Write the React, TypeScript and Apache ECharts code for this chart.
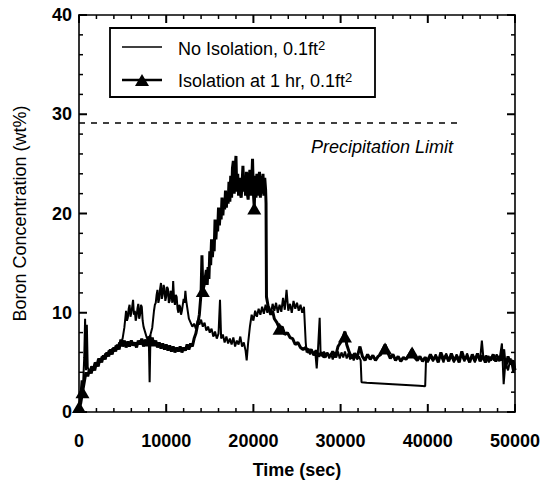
import React, { useEffect, useRef } from "react";
import * as echarts from "echarts";

// Time (sec), boron concentration (wt%)
const noIsolation: [number, number][] = [
  [0, 0.4], [150, 1.5], [300, 3.2], [450, 2.4], [600, 5.5], [700, 9.4], [800, 4.2], [900, 8.8], [1000, 4.5],
  [1200, 4.0], [1400, 4.6], [1600, 4.3], [1800, 5.0], [2000, 4.7], [2200, 5.4], [2400, 5.0], [2600, 5.6],
  [2800, 5.3], [3000, 5.9], [3200, 5.6], [3400, 6.2], [3600, 5.8], [3800, 6.4], [4000, 6.1], [4200, 6.7],
  [4400, 6.3], [4600, 7.0], [4800, 6.8], [5000, 7.4], [5200, 8.5], [5400, 10.2], [5500, 9.2], [5600, 9.5],
  [5700, 10.4], [5800, 10.8], [5900, 9.6], [6000, 10.0], [6100, 10.6], [6200, 11.3], [6300, 9.8], [6400, 10.2],
  [6500, 9.2], [6600, 9.6], [6700, 10.4], [6800, 10.9], [6900, 9.4], [7000, 9.8], [7100, 10.8], [7200, 10.6],
  [7300, 9.2], [7400, 8.6], [7600, 8.0], [7800, 7.4], [8000, 7.6], [8100, 3.0], [8200, 7.8], [8400, 8.5],
  [8600, 10.2], [8700, 10.8], [8800, 11.0], [8900, 11.8], [9000, 12.3], [9100, 11.0], [9200, 11.4], [9300, 12.4],
  [9400, 13.0], [9500, 11.4], [9600, 11.8], [9700, 12.8], [9800, 12.5], [9900, 11.2], [10000, 11.6],
  [10100, 12.6], [10200, 12.4], [10300, 11.0], [10400, 11.2], [10500, 12.2], [10600, 12.0], [10700, 11.0],
  [10800, 13.2], [10900, 11.4], [11000, 10.8], [11100, 11.8], [11200, 11.6], [11300, 10.4], [11400, 10.0],
  [11500, 10.8], [11600, 10.6], [11700, 9.8], [11800, 10.2], [11900, 10.8], [12000, 11.4], [12100, 11.0],
  [12200, 12.2], [12300, 11.2], [12400, 10.6], [12600, 9.4], [12800, 9.0], [13000, 8.6],
  [13200, 8.9], [13400, 8.4], [13600, 9.2], [13800, 8.8], [14000, 9.3], [14200, 8.6], [14400, 9.0],
  [14600, 8.2], [14800, 8.6], [15000, 8.0], [15200, 8.4], [15400, 7.6], [15600, 8.1], [15800, 7.4],
  [16000, 7.9], [16170, 11.3], [16300, 7.4], [16500, 7.8], [16700, 7.0], [16900, 7.6], [17100, 6.9],
  [17300, 7.4], [17500, 6.8], [17700, 7.5], [17900, 6.6], [18100, 7.2], [18300, 6.8], [18500, 7.6],
  [18700, 6.6], [18900, 7.0], [19100, 6.2], [19230, 5.2], [19400, 7.0], [19600, 8.6], [19800, 9.8],
  [20000, 9.2], [20200, 10.2], [20400, 9.6], [20600, 10.4], [20800, 9.8], [21000, 10.6], [21200, 9.9],
  [21400, 10.8], [21600, 10.0], [21800, 10.6], [22000, 9.8], [22200, 10.9], [22400, 10.2], [22600, 11.0],
  [22800, 10.0], [23000, 10.8], [23200, 10.1], [23400, 11.5], [23600, 10.3], [23800, 12.3], [24000, 10.2],
  [24200, 10.9], [24400, 10.0], [24600, 11.2], [24800, 10.4], [25000, 11.0], [25200, 10.2], [25400, 10.8],
  [25600, 10.0], [25800, 10.6], [26000, 7.0], [26100, 6.0], [26300, 6.4], [26500, 5.8], [26700, 6.3],
  [26900, 5.7], [27100, 6.0], [27260, 4.4], [27400, 6.2], [27600, 9.5], [27700, 6.0], [27900, 5.6],
  [28100, 6.1], [28300, 5.5], [28500, 6.0], [28700, 5.4], [28900, 5.9], [29100, 5.3], [29300, 6.0],
  [29500, 5.5], [29700, 6.1], [29900, 5.4], [30100, 6.0], [30300, 5.5], [30500, 6.1], [30700, 5.4],
  [30900, 5.9], [31100, 5.3], [31300, 5.8], [31500, 5.2], [31700, 5.7], [31900, 5.3], [32100, 5.6],
  [32300, 5.2], [32400, 3.0], [33000, 2.95], [34000, 2.9], [35000, 2.85], [36000, 2.8], [37000, 2.75],
  [38000, 2.7], [39000, 2.65], [39700, 2.6], [39800, 5.4], [40000, 5.0], [40300, 5.6], [40600, 5.1],
  [40900, 5.8], [41200, 5.2], [41500, 5.7], [41800, 5.0], [42100, 5.9], [42400, 5.2], [42700, 5.6],
  [43000, 5.0], [43300, 5.8], [43600, 5.3], [43900, 5.7], [44200, 5.1], [44500, 5.9], [44800, 5.2],
  [45100, 5.6], [45400, 5.0], [45700, 5.8], [46000, 5.3], [46200, 7.2], [46400, 5.2], [46700, 5.7],
  [47000, 5.0], [47300, 5.6], [47600, 5.2], [47900, 5.8], [48200, 5.1], [48500, 6.9], [48700, 2.8],
  [48900, 5.0], [49200, 4.2], [49500, 5.4], [49800, 4.0], [50000, 4.6],
];

const isolation1hr: [number, number][] = [
  [0, 0.3], [200, 0.9], [400, 2.0], [600, 3.0], [800, 4.0], [1000, 3.6], [1200, 4.3], [1400, 3.9],
  [1600, 4.6], [1800, 4.2], [2000, 5.0], [2200, 4.6], [2400, 5.4], [2600, 5.0], [2800, 5.7], [3000, 5.3],
  [3200, 6.0], [3400, 5.6], [3600, 6.3], [3800, 5.8], [4000, 6.5], [4200, 6.1], [4400, 6.8], [4600, 6.3],
  [4800, 7.3], [5000, 6.6], [5200, 7.2], [5400, 6.5], [5600, 7.1], [5800, 6.6], [6000, 7.2], [6200, 6.7],
  [6400, 7.0], [6600, 6.5], [6800, 7.2], [7000, 6.8], [7200, 7.4], [7400, 6.6], [7600, 7.3], [7800, 6.8],
  [8000, 7.4], [8200, 6.9], [8400, 7.5], [8600, 6.7], [8800, 7.2], [9000, 6.5], [9200, 7.0], [9400, 6.4],
  [9600, 6.9], [9800, 6.3], [10000, 6.8], [10200, 6.2], [10400, 6.7], [10600, 6.1], [10800, 6.6],
  [11000, 6.0], [11200, 6.5], [11400, 6.1], [11600, 6.6], [11800, 6.0], [12000, 6.5], [12200, 6.2],
  [12400, 6.8], [12600, 6.3], [12800, 6.9], [13000, 6.6], [13200, 7.4], [13400, 7.9], [13600, 8.8],
  [13800, 9.8], [14000, 12.0], [14100, 15.8], [14200, 12.2], [14400, 13.0], [14600, 14.3], [14700, 12.8],
  [14800, 14.6], [14900, 13.4], [15000, 16.2], [15100, 14.8], [15200, 17.4], [15300, 15.6], [15400, 17.0],
  [15500, 16.2], [15600, 19.4], [15700, 17.4], [15800, 19.0], [15900, 18.2], [16000, 20.6], [16100, 18.8],
  [16200, 20.2], [16300, 19.4], [16400, 21.6], [16500, 19.8], [16600, 21.2], [16700, 20.4], [16800, 22.3],
  [16900, 20.6], [17000, 22.0], [17100, 21.0], [17200, 23.2], [17300, 21.2], [17400, 23.8], [17500, 21.6],
  [17600, 24.6], [17700, 25.3], [17800, 22.0], [17900, 24.2], [18000, 25.8], [18100, 22.2], [18200, 24.0],
  [18300, 21.8], [18400, 23.6], [18500, 22.0], [18600, 21.6], [18700, 23.0], [18800, 24.8], [18900, 22.2],
  [19000, 23.4], [19100, 21.8], [19200, 24.2], [19300, 22.0], [19400, 21.4], [19500, 23.6], [19600, 24.4],
  [19700, 21.8], [19800, 23.0], [19900, 25.5], [20000, 22.0], [20100, 20.6], [20200, 23.8], [20300, 21.6],
  [20400, 24.0], [20500, 21.8], [20600, 23.4], [20700, 24.2], [20800, 21.6], [20900, 23.8], [21000, 22.0],
  [21100, 24.0], [21200, 21.8], [21300, 23.6], [21400, 22.4], [21450, 21.0],
  [21500, 11.6], [21700, 10.6], [22000, 9.8], [22200, 10.2], [22400, 9.4], [22700, 9.0], [23000, 8.4],
  [23300, 8.6], [23600, 7.8], [23900, 8.0], [24200, 7.5], [24500, 7.4], [24800, 6.8], [25100, 7.0],
  [25400, 6.5], [25700, 6.3], [26000, 6.5], [26300, 6.0], [26600, 6.3], [26900, 5.8], [27200, 6.2],
  [27500, 5.6], [27800, 6.0], [28100, 5.5], [28400, 5.9], [28800, 5.6], [29100, 6.1], [29400, 5.5],
  [29700, 6.6], [30000, 7.0], [30300, 7.6], [30500, 8.1], [30700, 6.8], [31000, 6.0], [31300, 5.4],
  [31600, 5.9], [31900, 5.5], [32220, 6.6], [32500, 5.6], [32800, 5.2], [33100, 5.8], [33400, 5.3],
  [33700, 5.7], [34000, 5.2], [34300, 5.6], [34600, 5.8], [34800, 6.2], [35100, 6.8], [35400, 6.0],
  [35700, 5.4], [36000, 5.8], [36300, 5.2], [36600, 5.6], [36900, 5.1], [37200, 5.5], [37500, 5.3],
  [37800, 5.7], [38200, 6.3], [38500, 5.5], [38800, 5.2], [39100, 5.6], [39400, 5.1], [39700, 5.5],
  [40000, 5.2], [40300, 5.8], [40600, 5.3], [40900, 5.6], [41200, 5.0], [41500, 6.0], [41800, 5.3],
  [42100, 5.7], [42400, 5.1], [42700, 5.9], [43000, 5.2], [43300, 5.6], [43600, 5.0], [43900, 6.1],
  [44200, 5.3], [44500, 5.6], [44800, 5.0], [45100, 5.8], [45400, 5.2], [45700, 5.9], [46000, 5.1],
  [46300, 5.7], [46600, 5.0], [46900, 5.6], [47200, 5.2], [47500, 5.8], [47800, 5.1], [48100, 5.6],
  [48400, 5.2], [48700, 6.3], [48900, 4.4], [49200, 5.6], [49500, 4.8], [49800, 5.2], [50000, 4.2],
];

const isolationMarkers: [number, number][] = [
  [0, 0.5], [400, 2.0], [8100, 7.2], [14200, 12.2], [20100, 20.5], [23000, 8.4],
  [30500, 7.6], [35100, 6.4], [38200, 6.0],
];

const precipitationLimit = 29.1;
const precipitationLineEnd = 43700;

// Axis ticks: [value, 1 = major / 0 = minor]
const xTickMarks: [number, number][] = [
  [0, 1], [2000, 0], [4000, 0], [6000, 0], [8000, 0], [10000, 1], [12000, 0], [14000, 0], [16000, 0],
  [18000, 0], [20000, 1], [22000, 0], [24000, 0], [26000, 0], [28000, 0], [30000, 1], [32000, 0],
  [34000, 0], [36000, 0], [38000, 0], [40000, 1], [42000, 0], [44000, 0], [46000, 0], [48000, 0], [50000, 1],
];
const yTickMarks: [number, number][] = [
  [0, 1], [2, 0], [4, 0], [6, 0], [8, 0], [10, 1], [12, 0], [14, 0], [16, 0], [18, 0], [20, 1],
  [22, 0], [24, 0], [26, 0], [28, 0], [30, 1], [32, 0], [34, 0], [36, 0], [38, 0], [40, 1],
];

const X_MIN = 0, X_MAX = 50000, X_STEP = 10000;
const Y_MIN = 0, Y_MAX = 40, Y_STEP = 10;

const FONT = "'Liberation Sans', Arial, Helvetica, sans-serif";

function frameAxis(position: string, extra: any) {
  return {
    type: "value",
    position,
    axisLine: { show: true, onZero: false, lineStyle: { color: "#000", width: 1.6 } },
    axisTick: { show: false },
    minorTick: { show: false },
    splitLine: { show: false },
    axisLabel: { show: false },
    ...extra,
  };
}

function legendAndText(): any[] {
  return [
    { type: "rect", shape: { x: 110, y: 28, width: 265, height: 69 }, style: { fill: "#fff", stroke: "#000", lineWidth: 1.8 }, z: 10 },
    { type: "line", shape: { x1: 122, y1: 47, x2: 162, y2: 47 }, style: { stroke: "#000", lineWidth: 1.6 }, z: 11 },
    { type: "line", shape: { x1: 122, y1: 80, x2: 162, y2: 80 }, style: { stroke: "#000", lineWidth: 2.4 }, z: 11 },
    { type: "polygon", shape: { points: [[142, 74], [149, 86], [135, 86]] }, style: { fill: "#000" }, z: 11 },
    {
      type: "text", x: 178, y: 49, z: 11,
      style: {
        text: "No Isolation, 0.1ft{sup|2}", fill: "#000", font: `18px ${FONT}`, verticalAlign: "middle",
        rich: { sup: { fontSize: 13, fontFamily: FONT, verticalAlign: "top", padding: [0, 0, 8, 0] } },
      },
    },
    {
      type: "text", x: 178, y: 81, z: 11,
      style: {
        text: "Isolation at 1 hr, 0.1ft{sup|2}", fill: "#000", font: `18px ${FONT}`, verticalAlign: "middle",
        rich: { sup: { fontSize: 13, fontFamily: FONT, verticalAlign: "top", padding: [0, 0, 8, 0] } },
      },
    },
    {
      type: "text", x: 311, y: 147, z: 11,
      style: { text: "Precipitation Limit", fill: "#000", font: `italic 18px ${FONT}`, verticalAlign: "middle" },
    },
  ];
}

export default function App() {
  const ref = useRef<HTMLDivElement>(null);
  useEffect(() => {
    if (!ref.current) return;
    const chart = echarts.init(ref.current, undefined, { renderer: "svg" });
    const tickLabel = { show: true, color: "#000", fontFamily: FONT, fontSize: 18, fontWeight: "bold" };
    chart.setOption({
      animation: false,
      grid: { left: 79, right: 36, top: 15, bottom: 78 },
      xAxis: [
        frameAxis("bottom", {
          min: X_MIN, max: X_MAX, interval: X_STEP,
          axisLabel: { ...tickLabel, margin: 20, formatter: (v: number) => String(v) },
          name: "Time (sec)", nameLocation: "middle", nameGap: 49,
          nameTextStyle: { color: "#000", fontFamily: FONT, fontSize: 18, fontWeight: "bold" },
        }),
        frameAxis("top", { min: X_MIN, max: X_MAX, interval: X_STEP }),
      ],
      yAxis: [
        frameAxis("left", {
          min: Y_MIN, max: Y_MAX, interval: Y_STEP,
          axisLabel: { ...tickLabel, margin: 7 },
          name: "Boron Concentration (wt%)", nameLocation: "middle", nameGap: 50,
          nameTextStyle: { color: "#000", fontFamily: FONT, fontSize: 18 },
        }),
        frameAxis("right", { min: Y_MIN, max: Y_MAX, interval: Y_STEP }),
      ],
      series: [
        {
          name: "No Isolation, 0.1ft2", type: "line", data: noIsolation, showSymbol: false,
          lineStyle: { color: "#000", width: 2 },
          markLine: {
            silent: true, symbol: "none", label: { show: false },
            lineStyle: { color: "#000", type: [6, 6], width: 1.5 },
            data: [[{ coord: [0, precipitationLimit] }, { coord: [precipitationLineEnd, precipitationLimit] }]],
          },
        },
        {
          name: "Isolation at 1 hr, 0.1ft2", type: "line", data: isolation1hr, showSymbol: false,
          lineStyle: { color: "#000", width: 3 },
        },
        {
          name: "markers", type: "scatter", data: isolationMarkers, symbol: "triangle",
          symbolSize: [14, 12], itemStyle: { color: "#000", opacity: 1 },
        },
      ],
    });

    // Tick marks placed through the chart's own scales (convertToPixel)
    const toPx = (x: number, y: number) => chart.convertToPixel({ gridIndex: 0 }, [x, y]) as number[];
    const ticks: any[] = [];
    xTickMarks.forEach(([v, major]) => {
      const len = major ? 8 : 4;
      const w = major ? 2 : 1.5;
      const b = toPx(v, Y_MIN);
      const t = toPx(v, Y_MAX);
      ticks.push({ type: "line", z: 20, shape: { x1: b[0], y1: b[1], x2: b[0], y2: b[1] - len }, style: { stroke: "#000", lineWidth: w } });
      ticks.push({ type: "line", z: 20, shape: { x1: t[0], y1: t[1], x2: t[0], y2: t[1] + len }, style: { stroke: "#000", lineWidth: w } });
    });
    yTickMarks.forEach(([v, major]) => {
      const len = major ? 8 : 4;
      const w = major ? 2 : 1.5;
      const l = toPx(X_MIN, v);
      const r = toPx(X_MAX, v);
      ticks.push({ type: "line", z: 20, shape: { x1: l[0], y1: l[1], x2: l[0] + len, y2: l[1] }, style: { stroke: "#000", lineWidth: w } });
      ticks.push({ type: "line", z: 20, shape: { x1: r[0], y1: r[1], x2: r[0] - len, y2: r[1] }, style: { stroke: "#000", lineWidth: w } });
    });
    chart.setOption({ graphic: [...legendAndText(), ...ticks] });

    return () => chart.dispose();
  }, []);
  return <div ref={ref} style={{ position: "absolute", left: 0, top: 0, width: 551, height: 490, background: "#fff" }} />;
}
